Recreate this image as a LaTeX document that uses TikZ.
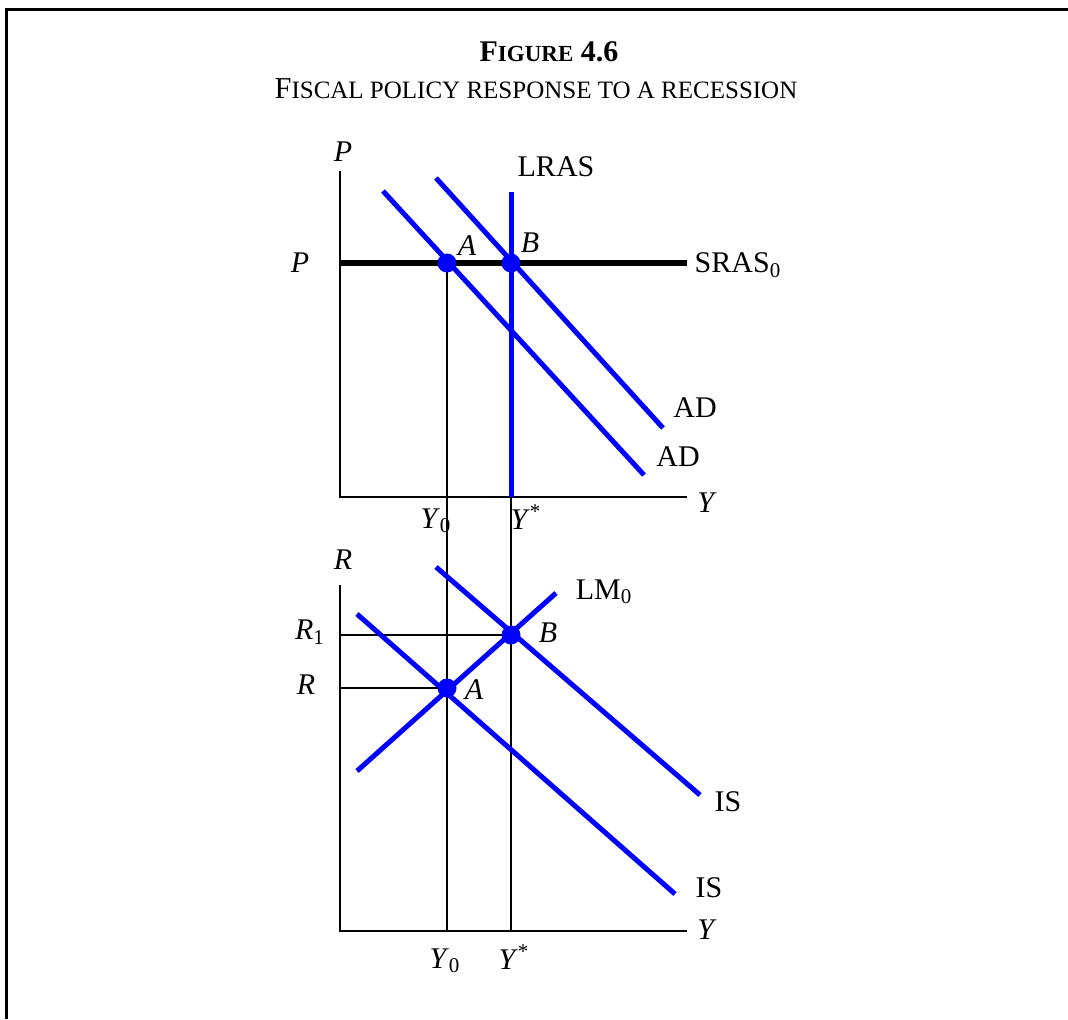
\documentclass[tikz,border=0pt]{standalone}
\usepackage{fontspec}
\setmainfont{Liberation Serif}
\newcommand{\smallcap}[2][12]{{\fontsize{#1}{#1}\selectfont #2}}
\begin{document}
\begin{tikzpicture}[x=0.5pt,y=-0.5pt,
  axis/.style={line width=1pt},
  guide/.style={line width=0.75pt},
  curve/.style={blue,line width=2.5pt},
  srasline/.style={line width=3pt},
  dot/.style={circle,fill=blue,inner sep=0pt,minimum size=9.5pt},
  every node/.style={font=\fontsize{15}{18}\selectfont}]
\useasboundingbox (0,0) rectangle (1068,1019);
% frame
\draw[line width=1.5pt] (6,1019) -- (6,9) -- (1068,9);
% title
\node (title) at (549,52) {\bfseries F\smallcap[11.5]{IGURE} 4.6};
\node[font=\fontsize{15.2}{18}\selectfont] (subtitle) at (536,89)
  {F\smallcap[12.5]{ISCAL POLICY RESPONSE TO A RECESSION}};
% points
\coordinate (Ptop) at (340,171);
\coordinate (O1) at (340,497);
\coordinate (Yend1) at (687,497);
\coordinate (Rtop) at (340,585);
\coordinate (O2) at (340,931);
\coordinate (Yend2) at (687,931);
\coordinate (A1) at (447,263);
\coordinate (B1) at (511,263);
\coordinate (A2) at (447,688);
\coordinate (B2) at (511,635);
\coordinate (Pleft) at (340,263);
\coordinate (Rone) at (340,635);
\coordinate (Rzero) at (340,688);
\coordinate (Yzero) at (447,931);
\coordinate (Ystar) at (511,931);
\coordinate (Ystarup) at (511,497);
% axes
\draw[axis] (Ptop) -- (O1) -- (Yend1);
\draw[axis] (Rtop) -- (O2) -- (Yend2);
% guide lines
\draw[guide] (A1) -- (Yzero);
\draw[guide] (Ystarup) -- (Ystar);
\draw[guide] (Rone) -- (B2);
\draw[guide] (Rzero) -- (A2);
% aggregate supply and demand
\draw[srasline] (Pleft) -- (Yend1 |- Pleft);
\draw[curve] (383,191) -- (644,475);
\draw[curve] (436,178) -- (663,428);
\draw[curve] (511,192) -- (Ystarup);
% IS-LM
\draw[curve] (357,771) -- (556,593);
\draw[curve] (357,614) -- (675,894);
\draw[curve] (436,567) -- (700,795);
% equilibria
\foreach \p in {A1,B1,A2,B2}
  \node[dot] at (\p) {};
% labels
\node (Plab) at (343,152) {\textit{P}};
\node (Pval) at (300,263) {\textit{P}};
\node (lras) at (556,167) {LRAS};
\node (sras) at (738,265) {SRAS\textsubscript{0}};
\node (Alab1) at (467,246) {\textit{A}};
\node (Blab1) at (530,243) {\textit{B}};
\node (ad1) at (695,408) {AD};
\node (ad0) at (678,457) {AD};
\node (Ylab1) at (707,503) {\textit{Y}};
\node (Y0lab1) at (436,521) {\textit{Y}\textsubscript{0}};
\node (Yslab1) at (526,517) {\textit{Y}\textsuperscript{*}};
\node (Rlab) at (343,560) {\textit{R}};
\node (R1lab) at (310,632) {\textit{R}\textsubscript{1}};
\node (R0lab) at (306,685) {\textit{R}};
\node (lm) at (604,592) {LM\textsubscript{0}};
\node (Blab2) at (548,633) {\textit{B}};
\node (Alab2) at (474,690) {\textit{A}};
\node (is1) at (728,802) {IS};
\node (is0) at (709,888) {IS};
\node (Ylab2) at (707,930) {\textit{Y}};
\node (Y0lab2) at (445,961) {\textit{Y}\textsubscript{0}};
\node (Yslab2) at (514,957) {\textit{Y}\textsuperscript{*}};
\end{tikzpicture}
\end{document}
